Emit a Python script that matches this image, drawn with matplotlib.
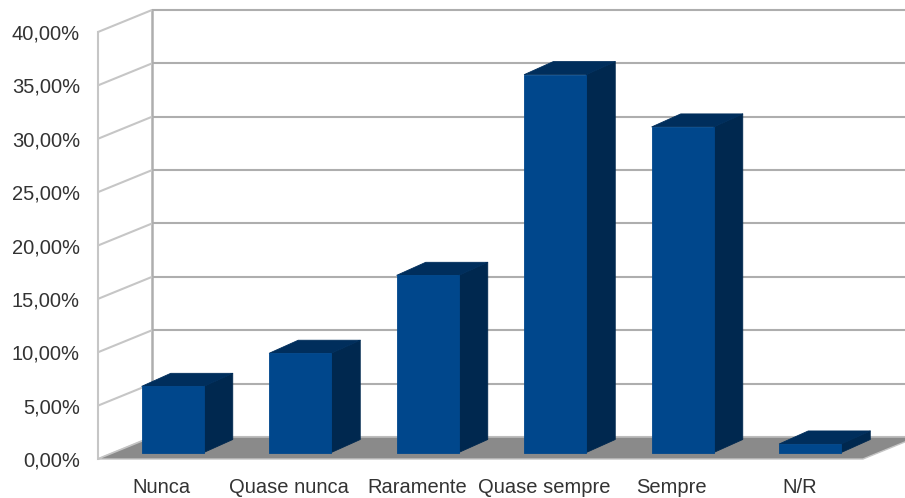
import matplotlib
matplotlib.use("Agg")
import matplotlib.pyplot as plt
from matplotlib.patches import Polygon, Rectangle
from matplotlib.ticker import FuncFormatter

categories = ["Nunca", "Quase nunca", "Raramente", "Quase sempre", "Sempre", "N/R"]
values = [0.062, 0.093, 0.166, 0.354, 0.305, 0.008]
y_ticks = [0.0, 0.05, 0.10, 0.15, 0.20, 0.25, 0.30, 0.35, 0.40]

W_PX, H_PX = 905, 498
fig = plt.figure(figsize=(W_PX / 100, H_PX / 100), dpi=100)

# front plane of the pseudo-3D box, in pixels
left_px, right_px, bottom_px, top_px = 98, 863, 459, 32
ax = fig.add_axes([left_px / W_PX, (H_PX - bottom_px) / H_PX,
                   (right_px - left_px) / W_PX, (bottom_px - top_px) / H_PX])
n = len(categories)
ax.set_xlim(-0.5, n - 0.5)
ax.set_ylim(0, 0.40)

# data units per pixel
ux = n / (right_px - left_px)
uy = 0.40 / (bottom_px - top_px)

# wall depth (oblique offset)
DX, DY = 54 * ux, 22 * uy
# bar placement inside the depth
FX, FY = 11 * ux, 6.5 * uy
BX, BY = 29 * ux, 13 * uy
BW = 62 * ux

x0, x1 = -0.5, n - 0.5
wall_back = "#aeaeae"
wall_side = "#c6c6c6"

# back wall grid
for t in y_ticks:
    ax.plot([x0 + DX, x1 + DX], [t + DY, t + DY], color=wall_back, lw=1.5,
            clip_on=False, zorder=1, solid_capstyle="butt")
ax.plot([x0 + DX, x0 + DX], [DY, 0.40 + DY], color=wall_back, lw=1.8,
        clip_on=False, zorder=1)

# left side wall
for t in y_ticks:
    ax.plot([x0, x0 + DX], [t, t + DY], color=wall_side, lw=1.5,
            clip_on=False, zorder=1, solid_capstyle="butt")
ax.plot([x0, x0], [0, 0.40], color=wall_side, lw=1.5, clip_on=False, zorder=1)

# floor
floor = Polygon([(x0, 0), (x1, 0), (x1 + DX, DY), (x0 + DX, DY)], closed=True,
                facecolor="#8a8a8a", edgecolor="#c4c4c4", lw=1.0,
                clip_on=False, zorder=2)
ax.add_patch(floor)

front_c = "#00478c"
top_c = "#002e5c"
side_c = "#00284f"

for i, v in enumerate(values):
    xl = i - BW / 2 + FX
    xr = i + BW / 2 + FX
    yb = FY
    yt = FY + v
    side = Polygon([(xr, yb), (xr + BX, yb + BY), (xr + BX, yt + BY), (xr, yt)],
                   closed=True, facecolor=side_c, edgecolor=side_c, lw=0.6,
                   joinstyle="round", clip_on=False, zorder=3)
    top = Polygon([(xl, yt), (xr, yt), (xr + BX, yt + BY), (xl + BX, yt + BY)],
                  closed=True, facecolor=top_c, edgecolor=top_c, lw=0.6,
                  joinstyle="round", clip_on=False, zorder=3)
    front = Rectangle((xl, yb), BW, v, facecolor=front_c, edgecolor=front_c,
                      lw=0.6, joinstyle="round", clip_on=False, zorder=4)
    ax.add_patch(side)
    ax.add_patch(top)
    ax.add_patch(front)

for s in ax.spines.values():
    s.set_visible(False)
ax.patch.set_visible(False)

font = dict(family=["Liberation Sans", "DejaVu Sans"], size=14.5, color="#333333")
ax.set_yticks(y_ticks)
ax.yaxis.set_major_formatter(FuncFormatter(lambda y, _: f"{y * 100:.2f}%".replace(".", ",")))
ax.set_xticks(range(n))
ax.set_xticklabels(categories)
ax.tick_params(axis="y", length=0, pad=13)
ax.tick_params(axis="x", length=0, pad=14)
for lbl in ax.get_xticklabels() + ax.get_yticklabels():
    lbl.set_fontfamily(font["family"])
    lbl.set_fontsize(font["size"])
    lbl.set_color(font["color"])

fig.savefig("out.png", dpi=100, facecolor="white")
